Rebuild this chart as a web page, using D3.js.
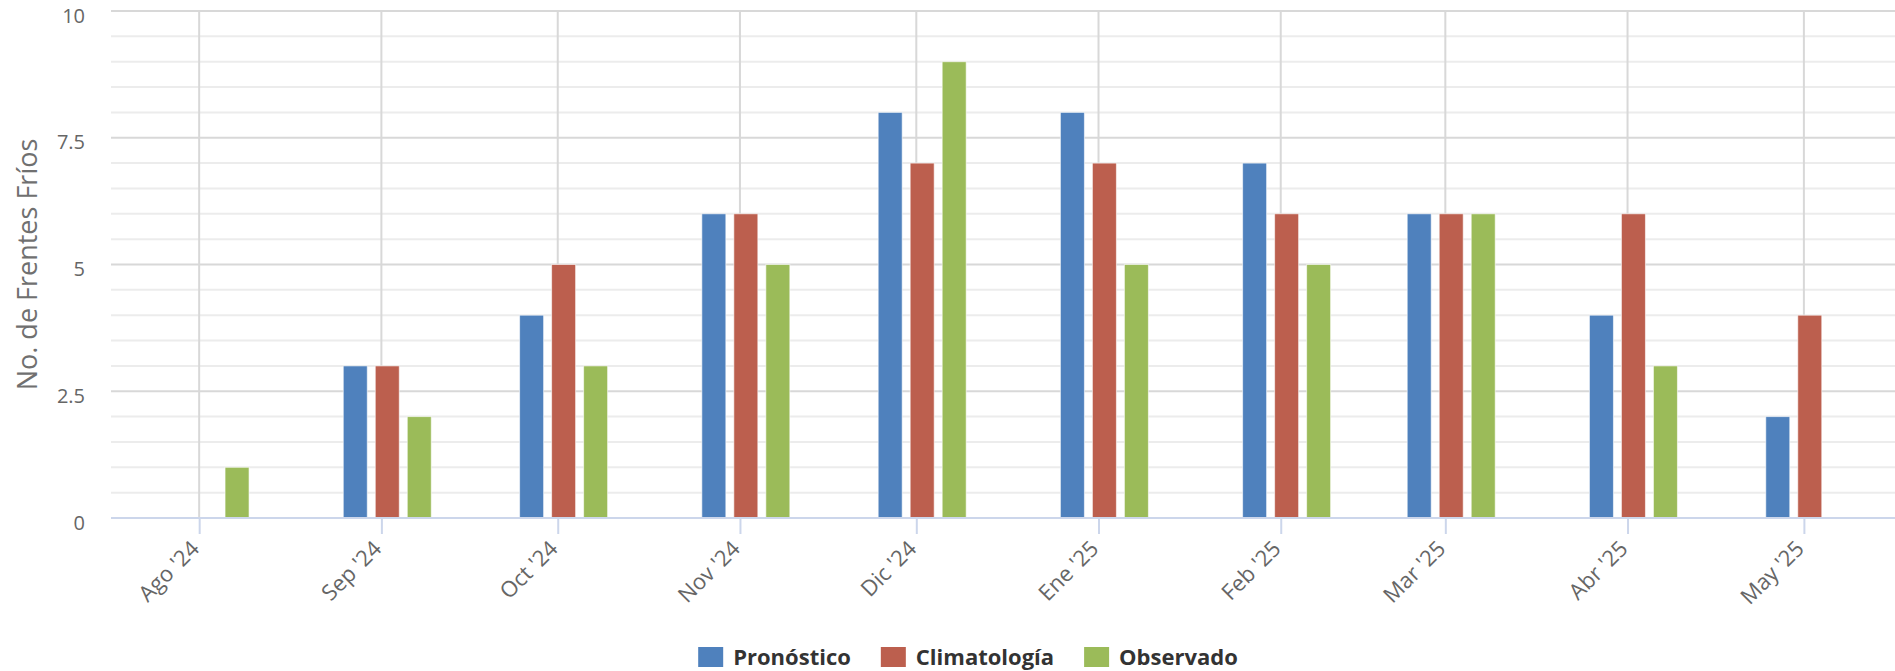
<!DOCTYPE html>
<html>
<head>
<meta charset="utf-8">
<script src="https://cdn.jsdelivr.net/npm/d3@7"></script>
<style>
  html, body { margin: 0; padding: 0; background: #fff; }
  svg { display: block; font-family: "Open Sans", sans-serif; }
</style>
</head>
<body>
<svg id="chart" width="1895" height="671"></svg>
<script>
// ---- data ----
const tickLabels = ["Ago '24", "Sep '24", "Oct '24", "Nov '24", "Dic '24", "Ene '25", "Feb '25", "Mar '25", "Abr '25", "May '25"];
const monthStarts = ["2024-08-01", "2024-09-01", "2024-10-01", "2024-11-01", "2024-12-01", "2025-01-01", "2025-02-01", "2025-03-01", "2025-04-01", "2025-05-01"];
const pointDates = ["2024-08-02", "2024-09-02", "2024-10-02", "2024-11-02", "2024-12-02", "2025-01-02", "2025-02-02", "2025-03-02", "2025-04-02", "2025-05-02"];
const seriesNames = ["Pronóstico", "Climatología", "Observado"];
const seriesColors = ["#4F81BD", "#BC5F4E", "#9BBB59"];
const pronostico = [null, 3, 4, 6, 8, 8, 7, 6, 4, 2];
const climatologia = [null, 3, 5, 6, 7, 7, 6, 6, 6, 4];
const observado = [1, 2, 3, 5, 9, 5, 5, 6, 3, null];
const yTicks = [0, 2.5, 5, 7.5, 10];
const yTitle = "No. de Frentes Fríos";

const seriesValues = [pronostico, climatologia, observado];
const parse = d3.utcParse("%Y-%m-%d");

const svg = d3.select("#chart");
const plot = { left: 111, right: 1895, top: 11, bottom: 518 };

const x = d3.scaleUtc()
  .domain([Date.UTC(2024, 6, 17), Date.UTC(2025, 4, 16, 12)])
  .range([plot.left, plot.right]);
const y = d3.scaleLinear().domain([0, 10]).range([plot.bottom, plot.top]);
const inner = d3.scaleBand().domain(seriesNames).range([-48, 48]).paddingInner(0.25).paddingOuter(0.125);

// minor gridlines
const minorVals = d3.range(0, 10.01, 0.5).filter(v => !yTicks.includes(v));
svg.append("g").selectAll("line").data(minorVals).join("line")
  .attr("x1", plot.left).attr("x2", plot.right)
  .attr("y1", d => y(d)).attr("y2", d => y(d))
  .attr("stroke", "#ececec").attr("stroke-width", 2);

// major gridlines
svg.append("g").selectAll("line").data(yTicks.filter(v => v !== 0)).join("line")
  .attr("x1", plot.left).attr("x2", plot.right)
  .attr("y1", d => y(d)).attr("y2", d => y(d))
  .attr("stroke", "#d8d8d8").attr("stroke-width", 2);

// vertical gridlines at month ticks
const tickDates = monthStarts.map(parse);
svg.append("g").selectAll("line").data(tickDates).join("line")
  .attr("x1", d => x(d)).attr("x2", d => x(d))
  .attr("y1", plot.top).attr("y2", plot.bottom)
  .attr("stroke", "#d8d8d8").attr("stroke-width", 2);

// bars
const gBars = svg.append("g");
seriesNames.forEach((name, si) => {
  const data = pointDates.map((d, i) => ({ date: parse(d), v: seriesValues[si][i] })).filter(d => d.v !== null);
  gBars.append("g").selectAll("rect").data(data).join("rect")
    .attr("x", d => x(d.date) + inner(name))
    .attr("width", inner.bandwidth())
    .attr("y", d => y(d.v))
    .attr("height", d => y(0) - y(d.v))
    .attr("fill", seriesColors[si])
    .attr("stroke", "#ffffff").attr("stroke-opacity", 0.6).attr("stroke-width", 1);
});

// x axis
const xAxis = d3.axisBottom(x)
  .tickValues(tickDates)
  .tickSize(16)
  .tickFormat((d, i) => tickLabels[i]);
const gx = svg.append("g").attr("transform", `translate(0,${plot.bottom})`).call(xAxis);
gx.select(".domain").remove();
gx.append("line").attr("x1", plot.left).attr("x2", plot.right).attr("y1", 0).attr("y2", 0)
  .attr("stroke", "#ccd6eb").attr("stroke-width", 2);
gx.selectAll(".tick line").attr("stroke", "#ccd6eb").attr("stroke-width", 2);
gx.selectAll(".tick text")
  .attr("fill", "#666666")
  .style("font-size", "22px")
  .style("font-family", "Open Sans")
  .attr("text-anchor", "end")
  .attr("x", 0).attr("y", 0).attr("dy", 0)
  .attr("transform", "translate(1,32) rotate(-45)");

// y axis
const yAxis = d3.axisLeft(y).tickValues(yTicks).tickSize(0).tickFormat(d3.format("~g"));
const gy = svg.append("g").attr("transform", `translate(85,0)`).call(yAxis);
gy.select(".domain").remove();
gy.selectAll(".tick text")
  .attr("fill", "#666666")
  .attr("x", 0)
  .attr("dy", "0.55em")
  .style("font-size", "20px")
  .style("font-family", "Open Sans");

// y title
svg.append("text")
  .attr("transform", `translate(37,${(plot.top + plot.bottom) / 2}) rotate(-90)`)
  .attr("text-anchor", "middle")
  .attr("fill", "#707070")
  .style("font-size", "27px")
  .text(yTitle);

// legend
const legend = svg.append("g");
const sqW = 25, sqH = 20, gapText = 10, gapItem = 30;
let cursor = 0;
seriesNames.forEach((name, i) => {
  const g = legend.append("g");
  g.append("rect").attr("x", 0).attr("y", -sqH + 2).attr("width", sqW).attr("height", sqH).attr("fill", seriesColors[i]);
  const t = g.append("text").attr("x", sqW + gapText).attr("y", 0)
    .attr("fill", "#333333").style("font-size", "22px").style("font-weight", "bold").text(name);
  const w = sqW + gapText + t.node().getComputedTextLength();
  g.attr("transform", `translate(${cursor},0)`);
  cursor += w + gapItem;
});
const totalW = cursor - gapItem;
legend.attr("transform", `translate(${968 - totalW / 2},665)`);
</script>
</body>
</html>
